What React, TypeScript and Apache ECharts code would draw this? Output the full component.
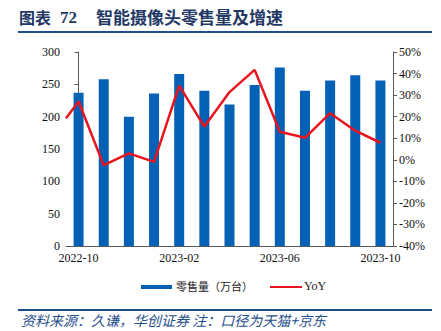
import React, { useEffect, useRef } from "react";
import * as echarts from "echarts";

const categories = [
  "2022-10", "2022-11", "2022-12", "2023-01", "2023-02", "2023-03", "2023-04",
  "2023-05", "2023-06", "2023-07", "2023-08", "2023-09", "2023-10",
];
const salesValues = [237, 258, 200, 236, 266, 240, 219, 249, 276, 240, 256, 264, 256];
// YoY (%), first point is the clipped segment entering from the left edge
const yoyPositions = [-0.5, 0, 1, 2, 3, 4, 5, 6, 7, 8, 9, 10, 11, 12];
const yoyValues = [19.3, 27, -2.5, 3, -1, 34.4, 15.4, 31.4, 41.7, 13, 10.2, 21.6, 13.5, 7.9];
const leftTicks = { min: 0, max: 300, interval: 50 };
const rightTicks = { min: -40, max: 50, interval: 10 };

const serif = "'Liberation Serif', 'Times New Roman', serif";
const cjk = "'Noto Sans CJK SC', sans-serif";

export default function App() {
  const ref = useRef<HTMLDivElement>(null);
  useEffect(() => {
    if (!ref.current) return;
    const chart = echarts.init(ref.current, null, { renderer: "svg" });
    const axisColor = "#595959";
    const blue = "#0461B6";
    const red = "#E8141E";
    chart.setOption({
      animation: false,
      grid: { left: 66, right: 48, top: 52, bottom: 85, containLabel: false },
      xAxis: [
        {
          type: "category",
          data: categories,
          boundaryGap: true,
          axisLine: { lineStyle: { color: axisColor } },
          axisTick: { interval: 3, length: 4, lineStyle: { color: axisColor } },
          axisLabel: {
            interval: 3,
            fontFamily: serif,
            fontSize: 12,
            color: "#111",
            margin: 6,
          },
        },
        {
          type: "value",
          min: -0.5,
          max: 12.5,
          show: false,
        },
      ],
      yAxis: [
        {
          type: "value",
          min: leftTicks.min,
          max: leftTicks.max,
          interval: leftTicks.interval,
          axisLine: { show: true, lineStyle: { color: axisColor } },
          axisTick: { show: true, length: 4, lineStyle: { color: axisColor } },
          splitLine: { show: false },
          axisLabel: { fontFamily: serif, fontSize: 12, color: "#111", margin: 6 },
        },
        {
          type: "value",
          min: rightTicks.min,
          max: rightTicks.max,
          interval: rightTicks.interval,
          position: "right",
          axisLine: { show: true, lineStyle: { color: axisColor } },
          axisTick: { show: true, length: 4, lineStyle: { color: axisColor } },
          splitLine: { show: false },
          axisLabel: {
            fontFamily: serif,
            fontSize: 12,
            color: "#111",
            margin: 6,
            formatter: "{value}%",
          },
        },
      ],
      series: [
        {
          name: "零售量（万台）",
          type: "bar",
          xAxisIndex: 0,
          yAxisIndex: 0,
          data: salesValues,
          barWidth: 10,
          itemStyle: { color: blue },
        },
        {
          name: "YoY",
          type: "line",
          xAxisIndex: 1,
          yAxisIndex: 1,
          data: yoyPositions.map((p, i) => [p, yoyValues[i]]),
          symbol: "none",
          lineStyle: { color: red, width: 2.5 },
          itemStyle: { color: red },
        },
      ],
      graphic: [
        {
          type: "text",
          left: 19,
          top: 9,
          style: { text: "图表", font: `bold 16px ${cjk}`, fill: "#1F3864" },
        },
        {
          type: "text",
          left: 60,
          top: 9,
          style: { text: "72", font: `bold 17px ${serif}`, fill: "#1F3864" },
        },
        {
          type: "text",
          left: 96,
          top: 8,
          style: {
            text: "智能摄像头零售量及增速",
            font: `bold 17px ${cjk}`,
            fill: "#1F3864",
          },
        },
        {
          type: "rect",
          shape: { x: 18, y: 31, width: 414, height: 2 },
          style: { fill: "#1F4E8C" },
        },
        // legend
        {
          type: "rect",
          shape: { x: 141, y: 285, width: 31, height: 4 },
          style: { fill: blue },
        },
        {
          type: "text",
          left: 176,
          top: 280,
          style: { text: "零售量（万台）", font: `11px ${cjk}`, fill: "#222" },
        },
        {
          type: "line",
          shape: { x1: 270, y1: 287, x2: 302, y2: 287 },
          style: { stroke: red, lineWidth: 2 },
        },
        {
          type: "text",
          left: 304,
          top: 280,
          style: { text: "YoY", font: `12px ${serif}`, fill: "#222" },
        },
        {
          type: "rect",
          shape: { x: 18, y: 309, width: 414, height: 2 },
          style: { fill: "#1F4E8C" },
        },
        {
          type: "text",
          left: 21,
          top: 313,
          style: {
            text: "资料来源：久谦，华创证券 注：口径为天猫+京东",
            font: `italic 14px ${cjk}`,
            fill: "#1F4E8C",
          },
        },
      ],
    });
    return () => chart.dispose();
  }, []);
  return <div ref={ref} style={{ width: 441, height: 331, position: "absolute", left: 0, top: 0 }} />;
}
